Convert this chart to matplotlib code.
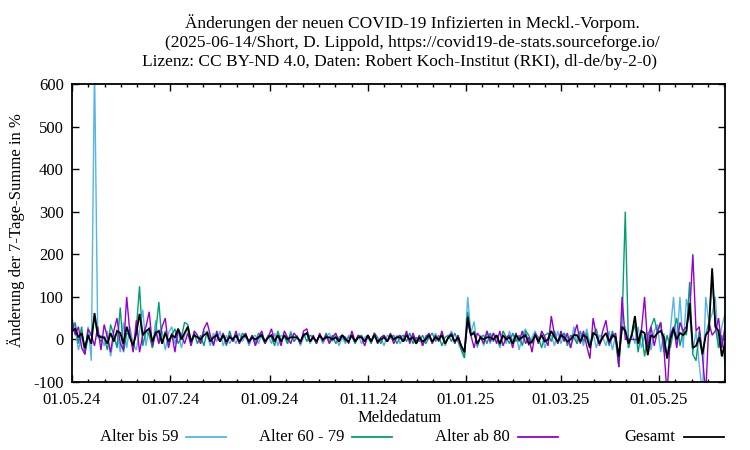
import matplotlib
matplotlib.use("Agg")
import matplotlib.pyplot as plt
import matplotlib.dates as mdates
from matplotlib.lines import Line2D
from matplotlib.ticker import FixedLocator
import datetime as dt

plt.rcParams['font.family'] = ['Liberation Serif', 'DejaVu Serif']
plt.rcParams['axes.unicode_minus'] = False

# ---------------- data (one value every 2 days) -----
start_date = dt.date(2024, 5, 1)
step_days = 2

blue = [  # Alter bis 59
    15, 25, -25, 10, -35, 30, -50, 650, 5, 10,
    -15, 20, -40, 5, 15, -30, 40, -20, 30, -10,
    -25, 20, 70, -15, 30, -20, 45, -10, 20, -25,
    15, 30, -10, 20, -20, 10, 25, -15, 10, 5,
    -10, 20, 10, -15, 15, -5, 20, -15, 10, -10,
    5, -10, 15, -5, 10, -15, 5, 10, -10, 15,
    -5, 10, -10, 15, -15, 10, 5, -10, 20, -5,
    10, -15, 5, 15, -10, 5, -5, 10, -10, 5,
    15, -5, 10, -15, 5, -10, 10, 5, -5, 10,
    -10, 5, 10, -5, 15, -10, 5, -15, 10, 5,
    -5, 10, -10, 5, 15, -5, 10, -10, 5, -15,
    10, 5, -10, 15, -5, 10, -15, 5, 20, -10,
    10, -20, -40, 100, 15, 42, -20, 10, -15, 20,
    -10, 15, 5, -20, 10, -10, 20, -5, 15, -25,
    10, 25, -15, 5, 20, -10, 15, -20, 5, 10,
    -15, 20, -10, 15, 5, -20, 30, -10, 10, -15,
    25, -10, 15, -20, 10, 5, -15, 20, -25, 10,
    -40, 20, 30, -20, 15, -10, 30, -20, 10, 15,
    -25, 20, 35, -30, 15, -40, 20, 100, -10, 100,
    -20, 95, 60, -30, 20, -60, -130, 100, 40, 60,
    100, -20, 30, 60,
]

green = [  # Alter 60 - 79
    20, 40, -10, 30, -35, 5, 15, 50, 10, -5,
    5, -25, 35, 10, -20, 75, -30, 15, 10, -20,
    25, 125, -15, 20, 10, -20, 15, 88, -10, 20,
    -15, 10, 25, -10, 5, 40, 35, -5, 15, -10,
    10, -15, 20, 5, -10, 15, -5, 10, -15, 20,
    -5, 10, -10, 15, 5, -5, 10, -10, 15, 5,
    -10, 10, 5, -15, 20, -5, 10, -10, 15, -5,
    5, -10, 15, -5, 10, 5, -10, 10, -5, 15,
    -5, 10, -10, 5, 10, -5, 5, 10, -10, 5,
    10, -5, 5, -10, 15, 5, -10, 10, -5, 5,
    10, -10, 5, 10, -5, 15, -10, 5, -5, 10,
    -10, 5, 15, -5, 10, -15, 5, 10, -5, 15,
    -5, -25, -44, 65, 10, 20, -15, 5, 10, -10,
    15, -5, 10, -15, 20, 5, -10, 15, -5, 10,
    -15, 20, 10, -10, 15, 5, -20, 10, 15, -5,
    20, -10, 5, 15, -15, 10, 5, -10, 20, -5,
    15, -20, 10, 25, -10, 5, 15, -15, 20, -5,
    -65, 40, 300, -20, 10, 35, -30, 20, -40, 10,
    30, 50, 15, 40, -30, 10, -20, 20, 50, -15,
    20, 10, 135, -35, -50, 20, -30, 10, 40, 150,
    30, -20, 10, -55,
]

purple = [  # Alter ab 80
    49, 10, 30, -20, -35, 25, 10, -15, 30, -25,
    35, 5, -30, 20, 50, -10, -25, 100, 15, -30,
    45, -30, 10, 30, 65, -15, 20, -10, 30, 50,
    -20, 15, -30, 25, 10, -10, 15, -15, 20, 10,
    -10, 25, 40, 10, -15, 20, -5, 15, -10, 10,
    -5, 20, -10, 5, 15, -10, 10, -15, 5, 20,
    -10, 5, 25, -5, 10, -15, 20, 5, -10, 15,
    5, -10, 20, 25, -5, 10, -10, 15, -5, 10,
    -10, 5, 15, -5, 10, 5, -10, 20, -5, 10,
    5, -15, 10, -5, 15, -10, 5, 10, -5, 15,
    -10, 5, 10, -5, 20, -10, 15, -5, 10, -15,
    5, 15, -10, 10, -5, 20, -10, 5, 15, -10,
    10, -15, -30, 40, 10, -20, 15, 5, -10, 20,
    -5, 15, -10, 20, -15, 5, 10, -20, 15, -5,
    20, -10, 5, -30, 15, -10, 20, 5, -15, 55,
    10, -10, 20, -5, 15, -20, 10, 35, -10, 20,
    -15, -45, 50, 10, -15, 20, 45, -10, 5, 15,
    -65, 100, 0, 0, 0, 0, 0, 20, 100, -20,
    30, -15, 20, 40, -20, -130, 10, 30, -20, 40,
    20, 30, 60, 200, 20, 30, -40, -130, 40, 10,
    20, 50, -20, 30,
]

black = [  # Gesamt
    20, 25, 5, 15, -20, 10, -10, 62, 10, 5,
    5, -10, 15, -5, 20, 15, -10, 30, 5, -15,
    15, 60, 10, 20, 25, -5, 15, 20, -10, 15,
    -5, 10, 5, 25, 0, 15, 30, -5, 10, 5,
    0, 10, 15, -5, 5, 10, -5, 10, -5, 5,
    0, 10, -5, 5, 10, -5, 5, 0, 5, 10,
    -5, 5, 10, -5, 10, -5, 10, 0, 5, 5,
    5, -5, 10, 15, -5, 5, -5, 10, 0, 5,
    5, 0, 5, -5, 10, 0, -5, 10, -5, 5,
    5, -5, 10, -5, 10, -5, 0, 5, -5, 10,
    0, 5, 5, -5, 10, 0, 5, -10, 5, -5,
    0, 10, -5, 5, 0, 10, -10, 5, 10, -5,
    5, -15, -30, 53, 10, 15, -10, 5, 0, 5,
    5, 0, 10, -10, 10, 0, 5, -10, 10, 0,
    5, 10, -10, -5, 10, -5, 10, -5, 0, 20,
    5, -5, 10, 5, -5, 0, 10, 10, -5, 10,
    5, -20, 15, 10, -10, 5, 15, -5, 10, 5,
    -40, 30, 20, -10, 10, 55, -10, 20, 15, -37,
    10, 5, 15, 20, 5, -45, 0, 25, 0, 15,
    10, 20, 85, -20, -15, 5, -35, 10, 20, 167,
    30, 20, -40, -10,
]

series_labels = ["Alter bis 59", "Alter 60 - 79", "Alter ab 80", "Gesamt"]
series_colors = ["#56b4e9", "#009e73", "#9400d3", "#000000"]

major_tick_dates = [dt.date(2024, 5, 1), dt.date(2024, 7, 1), dt.date(2024, 9, 1),
                    dt.date(2024, 11, 1), dt.date(2025, 1, 1), dt.date(2025, 3, 1),
                    dt.date(2025, 5, 1), dt.date(2025, 7, 1)]
y_ticks = [-100, 0, 100, 200, 300, 400, 500, 600]

title_lines = [
    "Änderungen der neuen COVID-19 Infizierten in Meckl.-Vorpom.",
    "(2025-06-14/Short, D. Lippold, https://covid19-de-stats.sourceforge.io/",
    "Lizenz: CC BY-ND 4.0, Daten: Robert Koch-Institut (RKI), dl-de/by-2-0)",
]

# ---------------- figure ----------------
W, H = 750, 450
fig = plt.figure(figsize=(7.5, 4.5), dpi=100)
ax = fig.add_axes([72 / W, 1 - 382 / H, (725 - 72) / W, (382 - 84) / H])

dates = [start_date + dt.timedelta(days=step_days * i) for i in range(len(blue))]
for vals, col, lw in zip([blue, green, purple, black], series_colors, [1.0, 1.0, 1.0, 1.3]):
    ax.plot(dates, vals, color=col, lw=lw, solid_joinstyle='miter')

ax.set_xlim(dt.date(2024, 5, 1), dt.date(2025, 6, 11))
ax.set_ylim(-100, 600)

maj = [mdates.date2num(d) for d in major_tick_dates]
minor = []
for a, b in zip(maj[:-1], maj[1:]):
    for k in range(1, 6):
        minor.append(a + (b - a) * k / 6)
ax.xaxis.set_major_locator(FixedLocator(maj))
ax.xaxis.set_minor_locator(FixedLocator(minor))
ax.xaxis.set_major_formatter(mdates.DateFormatter("%d.%m.%y"))
ax.set_yticks(y_ticks)

ax.tick_params(which='both', direction='in', top=True, right=True, labelsize=12,
               width=1.0, colors='black')
ax.tick_params(which='major', length=5)
ax.tick_params(which='minor', length=2.5)
ax.tick_params(axis='y', pad=6)
ax.tick_params(axis='x', pad=7.5)
for s in ax.spines.values():
    s.set_linewidth(1.3)

# titles and labels
title_y = [28, 47, 66]
title_x = [412, 412, 400]
for t, xx, yy in zip(title_lines, title_x, title_y):
    fig.text(xx / W, 1 - yy / H, t, ha='center', va='baseline', fontsize=12.5)

fig.text(16 / W, 1 - 230 / H, "Änderung der 7-Tage-Summe in %", rotation=90,
         ha='center', va='center', fontsize=12)
fig.text(400 / W, 1 - 418 / H, "Meldedatum", ha='center', va='center', fontsize=12)

# legend row (gnuplot style: text then line sample)
text_right = [178, 344, 510, 675]
line_x0 = [186, 352, 518, 684]
ly = 437
for lab, col, tr, lx in zip(series_labels, series_colors, text_right, line_x0):
    fig.text(tr / W, 1 - ly / H, lab, ha='right', va='center', fontsize=12)
    fig.add_artist(Line2D([lx / W, (lx + 40) / W], [1 - ly / H, 1 - ly / H],
                          color=col, lw=1.3, transform=fig.transFigure))

fig.savefig("out.png", dpi=100)
